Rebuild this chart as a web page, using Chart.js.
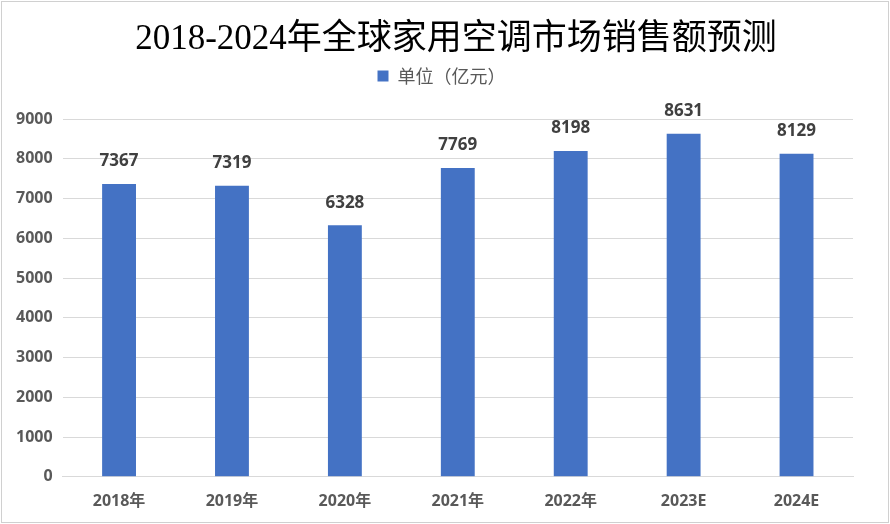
<!DOCTYPE html>
<html>
<head>
<meta charset="utf-8">
<script src="https://cdn.jsdelivr.net/npm/chart.js@4"></script>
<style>
  html, body { margin: 0; padding: 0; background: #fff; }
  #box { position: absolute; left: 1px; top: 1px; width: 886px; height: 520px; border: 1px solid #d0d0d0; box-sizing: content-box; }
  canvas { display: block; }
</style>
</head>
<body>
<div id="box"><canvas id="grafica"></canvas></div>
<script>
const categorias = ["2018年", "2019年", "2020年", "2021年", "2022年", "2023E", "2024E"];
const ventas = [7367, 7319, 6328, 7769, 8198, 8631, 8129];
const tituloGrafica = "2018-2024年全球家用空调市场销售额预测";
const nombreSerie = "单位（亿元）";

// etiquetas encima de cada barra
const etiquetas = {
    id: "etiquetas",
    afterDatasetsDraw(chart) {
        const ctx = chart.ctx;
        const meta = chart.getDatasetMeta(0);
        ctx.save();
        ctx.font = "bold 17px 'Open Sans', 'Noto Sans CJK SC', sans-serif";
        ctx.fillStyle = "#404040";
        ctx.textAlign = "center";
        ctx.textBaseline = "bottom";
        meta.data.forEach((bar, i) => {
            ctx.fillText(String(ventas[i]), bar.x, bar.y - 14);
        });
        ctx.restore();
    }
};

// título dibujado a mano (un poco a la derecha del centro, como el original)
const titulo = {
    id: "titulo",
    afterDraw(chart) {
        const ctx = chart.ctx;
        ctx.save();
        ctx.font = "35px 'Liberation Serif', 'Noto Sans CJK SC', serif";
        ctx.fillStyle = "#000";
        ctx.textAlign = "center";
        ctx.textBaseline = "middle";
        ctx.fillText(tituloGrafica, chart.width / 2 + 11, 38);
        ctx.restore();
    }
};

// espacio extra debajo de la leyenda y leyenda algo desplazada
const ajusteLeyenda = {
    id: "ajusteLeyenda",
    beforeInit(chart) {
        const fitOriginal = chart.legend.fit;
        chart.legend.fit = function () {
            fitOriginal.bind(chart.legend)();
            this.height += 24;
        };
    },
    afterLayout(chart) {
        chart.legend.left += 12;
        chart.legend.right += 12;
    }
};

new Chart(document.getElementById("grafica"), {
    type: "bar",
    data: {
        labels: categorias,
        datasets: [{
            label: nombreSerie,
            data: ventas,
            backgroundColor: "#4472C4",
            barPercentage: 0.6,
            categoryPercentage: 0.5
        }]
    },
    options: {
        responsive: true,
        maintainAspectRatio: false,
        animation: false,
        layout: { padding: { left: 4, right: 35, top: 55, bottom: 4 } },
        plugins: {
            title: { display: false },
            legend: {
                display: true,
                labels: {
                    color: "#595959",
                    boxWidth: 11,
                    boxHeight: 11,
                    font: { family: "'Noto Sans CJK SC', sans-serif", size: 18 }
                }
            },
            tooltip: { enabled: false }
        },
        scales: {
            x: {
                grid: { display: false },
                border: { color: "#d9d9d9", width: 1 },
                ticks: {
                    color: "#595959",
                    font: { family: "'Open Sans', 'Noto Sans CJK SC', sans-serif", size: 16, weight: "bold" },
                    padding: 7
                }
            },
            y: {
                min: 0,
                max: 9000,
                ticks: {
                    stepSize: 1000,
                    color: "#595959",
                    font: { family: "'Open Sans', sans-serif", size: 16, weight: "bold" },
                    padding: 10,
                    callback: v => String(v)
                },
                grid: { color: "#d9d9d9", drawTicks: false },
                border: { display: false }
            }
        }
    },
    plugins: [etiquetas, titulo, ajusteLeyenda]
});
</script>
</body>
</html>
